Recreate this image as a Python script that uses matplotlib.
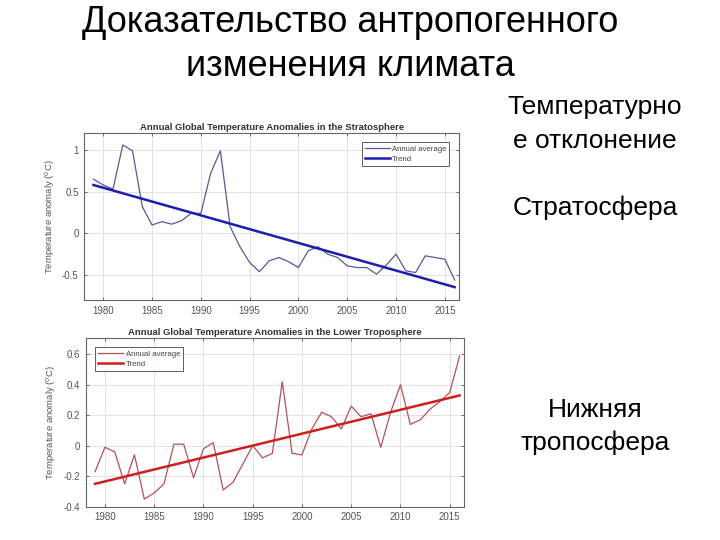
import numpy as np
import matplotlib.pyplot as plt

plt.rcParams["font.family"] = ["Liberation Sans", "DejaVu Sans"]

# -------------------------------------------------------------------
# Data
# -------------------------------------------------------------------

years = list(range(1979, 2017))

strat_annual = [0.65, 0.58, 0.53, 1.06, 0.99, 0.32, 0.10, 0.14, 0.11, 0.15,
                0.24, 0.24, 0.72, 0.99, 0.08, -0.16, -0.35, -0.46, -0.33, -0.29,
                -0.34, -0.41, -0.21, -0.16, -0.25, -0.29, -0.39, -0.41, -0.41, -0.49,
                -0.38, -0.25, -0.45, -0.47, -0.27, -0.29, -0.31, -0.56]
strat_trend_years = [1979, 2016]
strat_trend = [0.58, -0.645]

tropo_annual = [-0.17, -0.01, -0.04, -0.25, -0.06, -0.35, -0.31, -0.25, 0.01, 0.01,
                -0.21, -0.02, 0.02, -0.29, -0.24, -0.12, 0.00, -0.08, -0.05, 0.42,
                -0.05, -0.06, 0.11, 0.22, 0.19, 0.11, 0.26, 0.19, 0.21, -0.01,
                0.22, 0.40, 0.14, 0.17, 0.24, 0.29, 0.35, 0.59]
tropo_trend_years = [1979, 2016]
tropo_trend = [-0.25, 0.33]

xticks = list(range(1980, 2016, 5))
strat_yticks = [-0.5, 0, 0.5, 1]
strat_yticklabels = ["-0.5", "0", "0.5", "1"]
tropo_yticks = [-0.4, -0.2, 0, 0.2, 0.4, 0.6]
tropo_yticklabels = ["-0.4", "-0.2", "0", "0.2", "0.4", "0.6"]


# -------------------------------------------------------------------
# Helpers
# -------------------------------------------------------------------

def style_ax(ax, title, yticks, yticklabels, ylim):
    ax.set_xlim(1978.05, 2016.45)
    ax.set_ylim(*ylim)
    ax.set_xticks(xticks)
    ax.set_yticks(yticks)
    ax.set_yticklabels(yticklabels)
    ax.grid(True, color="#e2e2e2", linewidth=0.7)
    ax.set_axisbelow(True)
    ax.tick_params(direction="in", length=2.5, width=0.6, labelsize=7,
                   colors="#555555", top=True, right=True, pad=4)
    for side in ax.spines.values():
        side.set_color("#666666")
        side.set_linewidth(0.8)
    ax.set_title(title, fontsize=6.8, fontweight="bold", color="#333333", pad=2.5)
    ax.set_ylabel("Temperature anomaly ($^{\\rm o}$C)", fontsize=6.8,
                  color="#555555", labelpad=4)


def add_legend(ax, loc, anchor):
    leg = ax.legend(loc=loc, fontsize=5.6, frameon=True, fancybox=False,
                    handlelength=3.2, borderpad=0.4, labelspacing=0.3,
                    handletextpad=0.3, bbox_to_anchor=anchor)
    leg.get_frame().set_edgecolor("#333333")
    leg.get_frame().set_linewidth(0.7)
    for t in leg.get_texts():
        t.set_color("#444444")


fig = plt.figure(figsize=(7.2, 5.4), dpi=100)

# stratosphere
ax1 = fig.add_axes([0.117, 0.4444, 0.5205, 0.3087])
ax1.plot(years, strat_annual, color="#555a96", linewidth=0.9, label="Annual average")
ax1.plot(strat_trend_years, strat_trend, color="#1c1cae", linewidth=1.8, label="Trend")
style_ax(ax1, "Annual Global Temperature Anomalies in the Stratosphere",
         strat_yticks, strat_yticklabels, (-0.8, 1.2))
add_legend(ax1, "upper right", (0.985, 0.97))

# lower troposphere
ax2 = fig.add_axes([0.119, 0.0617, 0.5255, 0.3118])
ax2.plot(years, tropo_annual, color="#b4505c", linewidth=0.9, label="Annual average")
ax2.plot(tropo_trend_years, tropo_trend, color="#cc1f1f", linewidth=1.8, label="Trend")
style_ax(ax2, "Annual Global Temperature Anomalies in the Lower Troposphere",
         tropo_yticks, tropo_yticklabels, (-0.4, 0.705))
add_legend(ax2, "upper left", (0.015, 0.97))

# slide text
fig.text(350 / 720, 1 - 22 / 540, "Доказательство антропогенного",
         fontsize=26, ha="center", va="center", color="black")
fig.text(350 / 720, 1 - 66 / 540, "изменения климата",
         fontsize=26, ha="center", va="center", color="black")

side_labels = [("Температурно", 107), ("е отклонение", 141), ("Стратосфера", 208),
               ("Нижняя", 410), ("тропосфера", 443)]
for text, ypix in side_labels:
    fig.text(595 / 720, 1 - ypix / 540, text, fontsize=19,
             ha="center", va="center", color="black")

fig.savefig("out.png", dpi=100)
